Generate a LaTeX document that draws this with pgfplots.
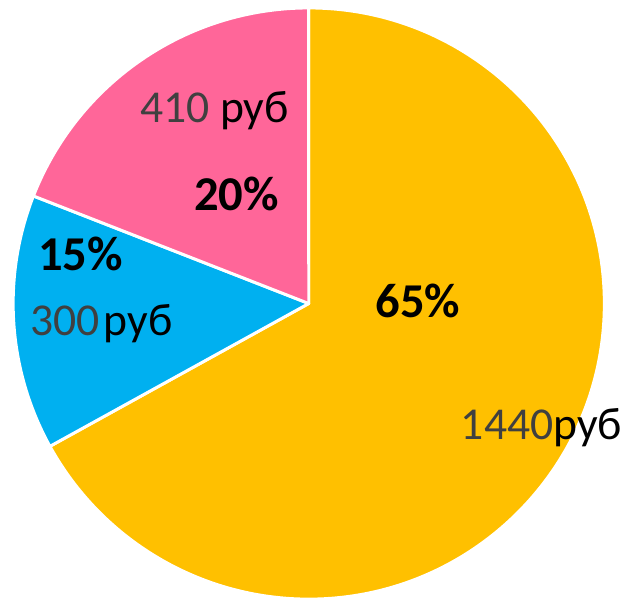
\documentclass[border=0pt]{standalone}
\usepackage{pgfplots}
\pgfplotsset{compat=1.18}
\usepackage{fontspec}
\setmainfont{Carlito}
\definecolor{pieyellow}{HTML}{FFC000}
\definecolor{pieblue}{HTML}{00B0F0}
\definecolor{piepink}{HTML}{FF6699}
\definecolor{valgrey}{HTML}{404040}
\begin{document}
\begin{tikzpicture}
% slice values (руб)
\pgfmathsetmacro\vA{1440}
\pgfmathsetmacro\vB{300}
\pgfmathsetmacro\vC{410}
\pgfmathsetmacro\tot{\vA+\vB+\vC}
\pgfmathsetmacro\aA{90}
\pgfmathsetmacro\aB{\aA-360*(\vA/\tot)}
\pgfmathsetmacro\aC{\aB-360*(\vB/\tot)}
\pgfmathsetmacro\aD{\aC-360*(\vC/\tot)}
\begin{axis}[hide axis, x=0.5pt, y=0.5pt, xmin=0, xmax=622, ymin=0, ymax=606,
  scale only axis, clip=false]
\path (axis cs:0,0) rectangle (axis cs:622,606);
\filldraw[fill=pieyellow, draw=white, line width=1.5pt, line join=round] (axis cs:308,300) -- ++(\aA:149pt) arc[start angle=\aA, end angle=\aB, radius=149pt] -- cycle;
\filldraw[fill=pieblue, draw=white, line width=1.5pt, line join=round] (axis cs:308,300) -- ++(\aB:149pt) arc[start angle=\aB, end angle=\aC, radius=149pt] -- cycle;
\filldraw[fill=piepink, draw=white, line width=1.5pt, line join=round] (axis cs:308,300) -- ++(\aC:149pt) arc[start angle=\aC, end angle=\aD, radius=149pt] -- cycle;
\tikzset{lbl/.style={anchor=base west, inner sep=0pt, font=\fontsize{23}{27}\selectfont},
  pct/.style={anchor=base west, inner sep=0pt, font=\fontsize{24.5}{28}\selectfont\bfseries}}
\node[pct] at (axis cs:375,286) {65\%};
\node[lbl] at (axis cs:461,163) {\textcolor{valgrey}{1440}руб};
\node[pct] at (axis cs:35,333) {15\%};
\node[lbl] at (axis cs:27,268) {\textcolor{valgrey}{300}\kern2pt руб};
\node[lbl] at (axis cs:138,483) {\textcolor{valgrey}{410} руб};
\node[pct] at (axis cs:192,394) {20\%};
\end{axis}
\end{tikzpicture}
\end{document}
